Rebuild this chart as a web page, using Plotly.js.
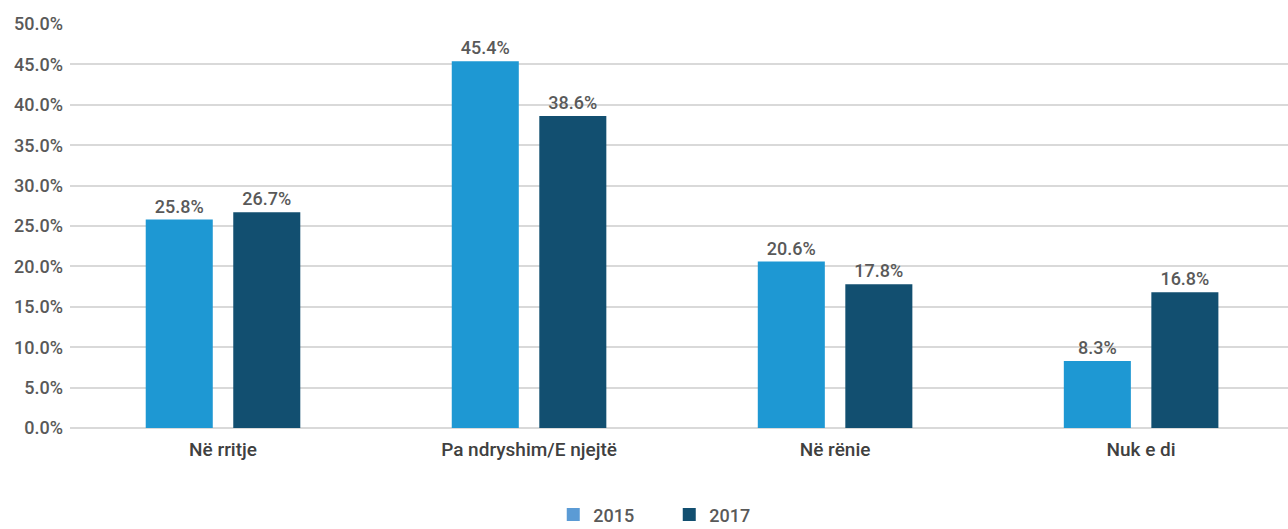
<!DOCTYPE html>
<html>
<head>
<meta charset="utf-8">
<script src="https://cdn.plot.ly/plotly-3.0.1.min.js"></script>
<style>html,body{margin:0;padding:0;background:#fff;}#chart{width:1288px;height:529px;}</style>
</head>
<body>
<div id="chart"></div>
<script>
const categories = ["Në rritje", "Pa ndryshim/E njejtë", "Në rënie", "Nuk e di"];
const seriesNames = ["2015", "2017"];
const series2015 = [25.8, 45.4, 20.6, 8.3];
const series2017 = [26.7, 38.6, 17.8, 16.8];
const yTicks = [0, 5, 10, 15, 20, 25, 30, 35, 40, 45, 50];

const fontFam = "Roboto, 'DejaVu Sans', sans-serif";
const fmt = v => v.toFixed(1) + "%";
const barColors = ["#1E98D3", "#124F70"];
const legendColors = ["#5B9BD5", "#124F70"];

const labelFont = {family: fontFam, size: 18, color: "#595959", weight: 500};

const traces = [
  {type: "bar", name: seriesNames[0], x: categories, y: series2015, showlegend: false,
   text: series2015.map(fmt), textposition: "outside", cliponaxis: false,
   textfont: labelFont, marker: {color: barColors[0]}},
  {type: "bar", name: seriesNames[1], x: categories, y: series2017, showlegend: false,
   text: series2017.map(fmt), textposition: "outside", cliponaxis: false,
   textfont: labelFont, marker: {color: barColors[1]}},
  {type: "scatter", mode: "markers", name: seriesNames[0], x: [null], y: [null],
   marker: {symbol: "square", size: 13, color: legendColors[0]}},
  {type: "scatter", mode: "markers", name: seriesNames[1], x: [null], y: [null],
   marker: {symbol: "square", size: 13, color: legendColors[1]}}
];

const layout = {
  width: 1288, height: 529,
  margin: {l: 70, r: 0, t: 24, b: 101, autoexpand: false},
  paper_bgcolor: "#fff", plot_bgcolor: "#fff",
  font: labelFont,
  barmode: "group", bargap: 0.428, bargroupgap: 0.234,
  showlegend: true,
  legend: {orientation: "h", x: 0.492, xanchor: "center", y: -0.215, yanchor: "middle",
           font: labelFont, traceorder: "normal", itemwidth: 30, entrywidth: 71},
  xaxis: {type: "category", range: [-0.5, 3.48], showgrid: false, zeroline: false, showline: false,
          ticks: "", ticklabelstandoff: 8,
          tickfont: {family: fontFam, size: 19, color: "#404040", weight: 500}},
  yaxis: {range: [0, 50], tickvals: yTicks, ticktext: yTicks.map(v => v.toFixed(1) + "%"),
          showgrid: true, gridcolor: "#D9D9D9", gridwidth: 2, zeroline: true, zerolinecolor: "#D9D9D9", zerolinewidth: 2,
          ticks: "", ticklabelstandoff: 6, tickfont: labelFont}
};

Plotly.newPlot("chart", traces, layout, {displayModeBar: false, staticPlot: true});
</script>
</body>
</html>
